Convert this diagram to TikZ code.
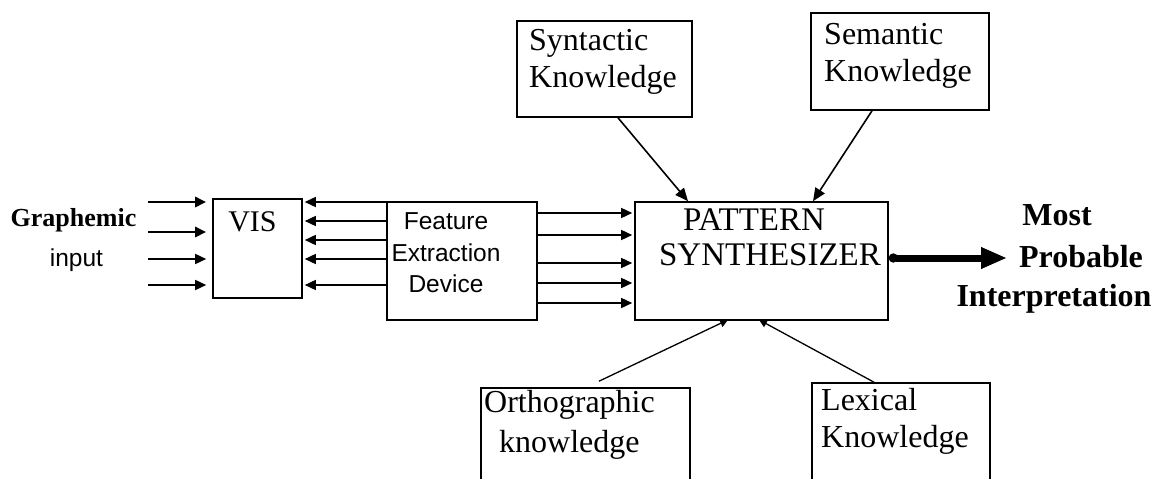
\documentclass[tikz,border=0pt]{standalone}
\usepackage{fontspec}
\setmainfont{Liberation Serif}
\newfontfamily\arialfont{Liberation Sans}
\usetikzlibrary{arrows.meta,calc}
\begin{document}
\begin{tikzpicture}[x=1pt,y=-1pt,
  box/.style={draw, line width=1.6pt, inner sep=0pt},
  txt/.style={inner sep=0pt, font=\fontsize{32}{37}\selectfont},
  arr/.style={line width=1.5pt, -{Triangle[length=11pt,width=10pt]}},
  tarr/.style={line width=1.6pt, -{Triangle[length=13pt,width=11pt]}},
  barr/.style={line width=1.3pt, -{Triangle[length=8pt,width=8pt]}}]
\useasboundingbox (0,0) rectangle (1157,479);
\clip (0,0) rectangle (1157,479);

% boxes
\node[box, minimum width=89pt, minimum height=99pt] (vis) at (257.5,248.5) {};
\node[box, minimum width=150pt, minimum height=118pt] (fed) at (462,261) {};
\node[box, minimum width=253pt, minimum height=118pt] (pat) at (761.5,261) {};
\node[box, minimum width=175pt, minimum height=96pt] (syn) at (604.5,69) {};
\node[box, minimum width=178pt, minimum height=97pt] (sem) at (900,61.5) {};
\node[box, minimum width=209pt, minimum height=132pt] (ort) at (585.5,454) {};
\node[box, minimum width=178pt, minimum height=137pt] (lex) at (901,451.5) {};

% texts
\node[txt, font=\fontsize{30}{36}\selectfont] (vist) at (252.5,222) {VIS};
\node[inner sep=0pt, align=center, font=\arialfont\fontsize{24.5}{31.5}\selectfont] (fedt) at (446,253) {Feature\\Extraction\\Device};
\node[txt, font=\fontsize{33}{37}\selectfont] (pat1) at (754,220) {PATTERN};
\node[txt, font=\fontsize{33}{37}\selectfont] (pat2) at (770,255) {SYNTHESIZER};
\node[txt, anchor=west, align=left] (synt) at (529,61.5) {Syntactic\\Knowledge};
\node[txt, anchor=west, align=left] (semt) at (824,56) {Semantic\\Knowledge};
\node[txt, anchor=west] (ort1) at (484,405) {Orthographic};
\node[txt, anchor=west] (ort2) at (499,445) {knowledge};
\node[txt, anchor=west, align=left] (lext) at (821,421.5) {Lexical\\Knowledge};
\node[txt, font=\bfseries\fontsize{26}{30}\selectfont] (graph) at (73.5,220) {Graphemic};
\node[inner sep=0pt, font=\arialfont\fontsize{24.5}{30}\selectfont] (inp) at (76.5,260) {input};
\node[txt, font=\bfseries\fontsize{32}{37}\selectfont] (most) at (1057,215) {Most};
\node[txt, font=\bfseries\fontsize{32}{37}\selectfont] (prob) at (1081,257) {Probable};
\node[txt, font=\bfseries\fontsize{32}{37}\selectfont] (interp) at (1054,299) {Interpretation};

% graphemic input arrows
\coordinate (g1) at (148,202);
\coordinate (g2) at (148,232);
\coordinate (g3) at (148,259);
\coordinate (g4) at (148,285);
\draw[arr, line width=2.6pt, shorten >=6pt] (g1) -- (vis.west |- g1);
\draw[arr, line width=2.6pt, shorten >=6pt] (g2) -- (vis.west |- g2);
\draw[arr, shorten >=6pt] (g3) -- (vis.west |- g3);
\draw[arr, shorten >=6pt] (g4) -- (vis.west |- g4);

% FED -> VIS
\foreach \y in {202,221,240,259,285}
  \draw[arr, shorten >=2pt] (fed.west |- 0,\y) -- (vis.east |- 0,\y);

% FED -> PATTERN
\foreach \y in {213,235,263,283,303}
  \draw[arr, shorten >=2pt] (fed.east |- 0,\y) -- (pat.west |- 0,\y);

% knowledge arrows
\draw[tarr] (618,0 |- syn.south) -- (688,0 |- pat.north);
\draw[tarr] (872,0 |- sem.south) -- (813,0 |- pat.north);
\coordinate (o1) at ($(599,0 |- ort.north)+(0,-6)$);
\draw[barr] (o1) -- ($(728,0 |- pat.south)+(0,-1)$);
\draw[barr] (874,0 |- lex.north) -- ($(759,0 |- pat.south)+(0,-1)$);

% output arrow
\coordinate (outend) at (1007,258);
\draw[line width=7pt, {Circle[length=9pt]}-{Triangle[length=26pt,width=20pt]}] (pat.east |- outend) -- (outend);
\end{tikzpicture}
\end{document}
